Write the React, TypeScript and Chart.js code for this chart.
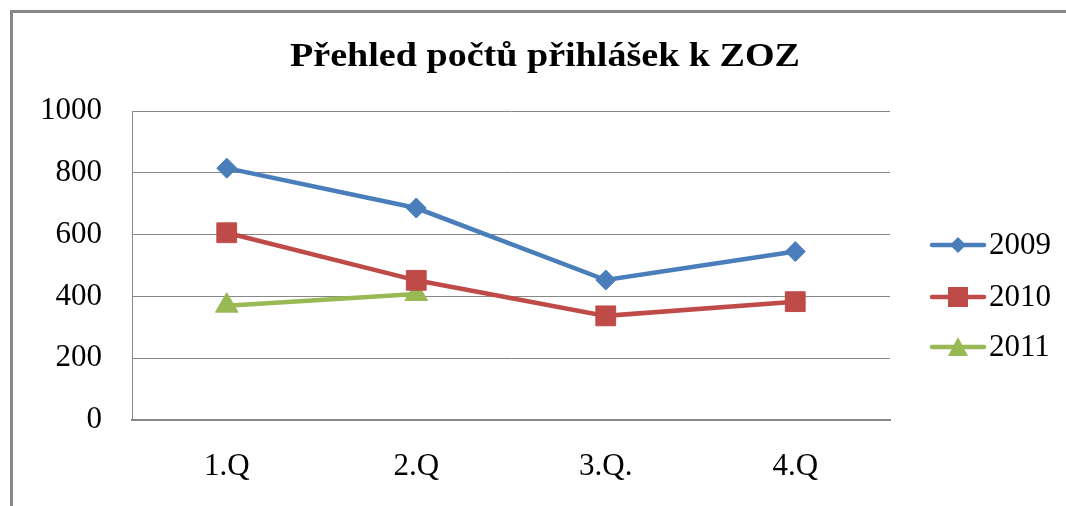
import React, { useEffect, useRef } from "react";
import { Chart, registerables } from "chart.js";

Chart.register(...registerables);

const categories = ["1.Q", "2.Q", "3.Q.", "4.Q"];
const series2009 = [815, 686, 453, 545];
const series2010 = [606, 452, 337, 383];
const series2011: (number | null)[] = [370, 408, null, null];
const yTicks = [0, 200, 400, 600, 800, 1000];
const titleText = "Přehled počtů přihlášek k ZOZ";

const FONT = "'Liberation Serif', 'Times New Roman', serif";

const framePlugin = {
  id: "frame",
  beforeDraw(chart: any) {
    const ctx = chart.ctx;
    ctx.save();
    ctx.fillStyle = "#ffffff";
    ctx.fillRect(0, 0, chart.width, chart.height);
    ctx.fillStyle = "#878787";
    ctx.fillRect(10, 10, chart.width - 10, 3);
    ctx.fillRect(10, 10, 3, chart.height - 10);
    ctx.restore();
  },
  afterDraw(chart: any) {
    const ctx = chart.ctx;
    ctx.save();
    ctx.fillStyle = "#000";
    ctx.font = `bold 34px ${FONT}`;
    ctx.textAlign = "center";
    ctx.textBaseline = "alphabetic";
    ctx.translate(545, 66);
    ctx.scale(1.12, 1);
    ctx.fillText(titleText, 0, 0);
    ctx.restore();

    ctx.save();
    // legend
    const rows = [245, 297, 347];
    chart.data.datasets.forEach((ds: any, i: number) => {
      const y = rows[i];
      ctx.strokeStyle = ds.borderColor;
      ctx.lineWidth = 4.5;
      ctx.lineCap = "round";
      ctx.beginPath();
      ctx.moveTo(932, y);
      ctx.lineTo(984, y);
      ctx.stroke();
      ctx.fillStyle = ds.borderColor;
      const style = ds.pointStyle;
      const lr = i === 0 ? 8 : 10;
      ctx.beginPath();
      if (style === "rectRot") {
        ctx.moveTo(958, y - lr);
        ctx.lineTo(958 + lr, y);
        ctx.lineTo(958, y + lr);
        ctx.lineTo(958 - lr, y);
      } else if (style === "rect") {
        ctx.rect(958 - lr, y - lr, lr * 2, lr * 2);
      } else {
        ctx.moveTo(958, y - lr);
        ctx.lineTo(958 + lr, y + lr * 0.9);
        ctx.lineTo(958 - lr, y + lr * 0.9);
      }
      ctx.closePath();
      ctx.fill();
      ctx.fillStyle = "#000";
      ctx.font = `31px ${FONT}`;
      ctx.textAlign = "left";
      ctx.textBaseline = "middle";
      ctx.fillText(ds.label, 989, y + 1);
    });
    ctx.restore();
  },
};

export default function App() {
  const ref = useRef<HTMLCanvasElement | null>(null);
  useEffect(() => {
    document.body.style.margin = "0";
    const canvas = ref.current!;
    const chart = new Chart(canvas, {
      type: "line",
      data: {
        labels: categories,
        datasets: [
          {
            label: "2009",
            data: series2009,
            borderColor: "#4A7EBB",
            backgroundColor: "#4A7EBB",
            borderWidth: 4.5,
            pointStyle: "rectRot",
            pointRadius: 10,
            pointBorderWidth: 1,
            tension: 0,
          },
          {
            label: "2010",
            data: series2010,
            borderColor: "#BE4B48",
            backgroundColor: "#BE4B48",
            borderWidth: 4.5,
            pointStyle: "rect",
            pointRadius: 14,
            pointBorderWidth: 1,
            tension: 0,
          },
          {
            label: "2011",
            data: series2011,
            borderColor: "#98B954",
            backgroundColor: "#98B954",
            borderWidth: 4.5,
            pointStyle: "triangle",
            pointRadius: 13,
            pointBorderWidth: 1,
            tension: 0,
            spanGaps: false,
          },
        ],
      },
      options: {
        animation: false,
        responsive: false,
        maintainAspectRatio: false,
        layout: { padding: { top: 111, right: 176, left: 0, bottom: 0 } },
        plugins: {
          legend: { display: false },
          title: { display: false },
          tooltip: { enabled: false },
        },
        scales: {
          x: {
            type: "category",
            offset: true,
            grid: { display: false, drawTicks: false },
            border: { display: true, color: "#878787", width: 2 },
            ticks: {
              color: "#000",
              font: { family: FONT, size: 31 },
              padding: 28,
            },
            afterFit(axis: any) {
              axis.height = 86;
            },
          },
          y: {
            min: 0,
            max: 1000,
            afterBuildTicks(axis: any) {
              axis.ticks = yTicks.map((v) => ({ value: v }));
            },
            grid: { color: "#878787", lineWidth: 1, drawTicks: false },
            border: { display: true, color: "#878787", width: 1 },
            ticks: {
              color: "#000",
              font: { family: FONT, size: 31 },
              padding: 30,
              callback: (v: any) => String(v),
            },
            afterFit(axis: any) {
              axis.width = 132;
            },
          },
        },
      },
      plugins: [framePlugin],
    });
    return () => chart.destroy();
  }, []);
  return (
    <div style={{ position: "absolute", left: 0, top: 0, width: 1066, height: 506 }}>
      <canvas ref={ref} width={1066} height={506} style={{ display: "block" }} />
    </div>
  );
}
